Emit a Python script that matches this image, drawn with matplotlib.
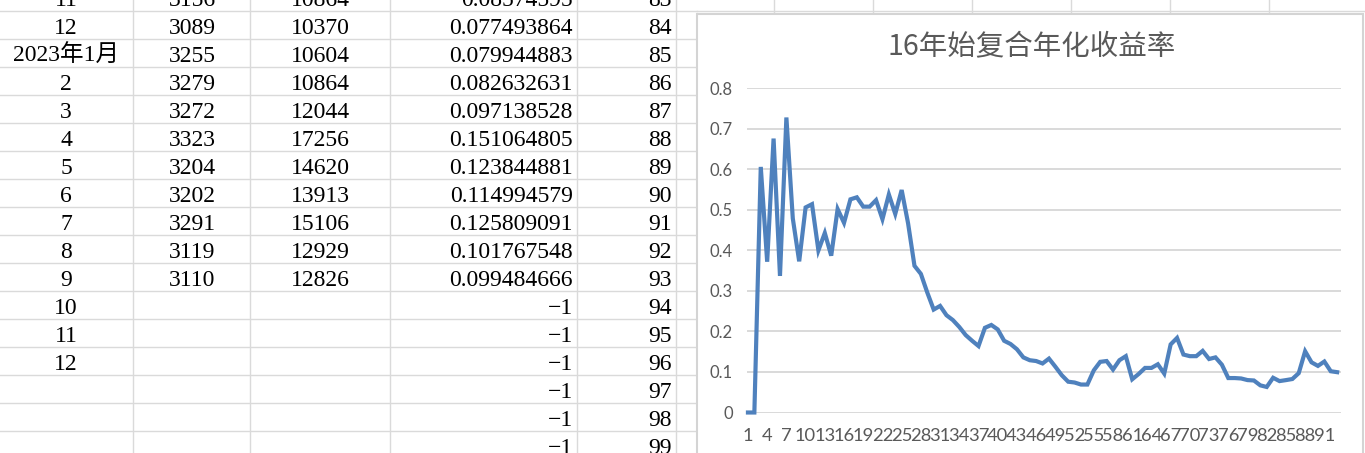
import matplotlib
matplotlib.use("Agg")
import matplotlib.pyplot as plt
from matplotlib.patches import Rectangle

# ---------------- data ----------------
# spreadsheet columns (visible rows)
col_month = ["11", "12", "2023年1月", "2", "3", "4", "5", "6", "7", "8", "9", "10", "11", "12", "", "", ""]
col_index = ["3156", "3089", "3255", "3279", "3272", "3323", "3204", "3202", "3291", "3119", "3110", "", "", "", "", "", ""]
col_value = ["10864", "10370", "10604", "10864", "12044", "17256", "14620", "13913", "15106", "12929", "12826", "", "", "", "", "", ""]
col_rate = ["0.08574595", "0.077493864", "0.079944883", "0.082632631", "0.097138528", "0.151064805",
            "0.123844881", "0.114994579", "0.125809091", "0.101767548", "0.099484666",
            "−1", "−1", "−1", "−1", "−1", "−1"]
col_row = ["83", "84", "85", "86", "87", "88", "89", "90", "91", "92", "93", "94", "95", "96", "97", "98", "99"]

# chart series: 复合年化收益率, points 1..93
rate = [0, 0, 0.606, 0.372, 0.676, 0.337, 0.728, 0.479, 0.373, 0.506,
        0.514, 0.400, 0.443, 0.387, 0.502, 0.468, 0.526, 0.531, 0.508, 0.508,
        0.524, 0.477, 0.538, 0.490, 0.549, 0.467, 0.362, 0.342, 0.296, 0.254,
        0.263, 0.240, 0.228, 0.211, 0.191, 0.177, 0.164, 0.209, 0.216, 0.205,
        0.177, 0.169, 0.156, 0.136, 0.129, 0.127, 0.121, 0.133, 0.113, 0.092,
        0.076, 0.074, 0.069, 0.069, 0.104, 0.125, 0.127, 0.106, 0.129, 0.139,
        0.082, 0.095, 0.110, 0.110, 0.119, 0.096, 0.168, 0.184, 0.143, 0.139,
        0.139, 0.152, 0.132, 0.136, 0.118, 0.085, 0.085, 0.084, 0.080, 0.079,
        0.067, 0.063, 0.0857, 0.0775, 0.0799, 0.0826, 0.0971, 0.1511, 0.1238, 0.1150,
        0.1258, 0.1018, 0.0995]
points = list(range(1, len(rate) + 1))
x_tick_labels = [str(v) for v in range(1, 92, 3)]
y_ticks = [0, 0.1, 0.2, 0.3, 0.4, 0.5, 0.6, 0.7, 0.8]
y_tick_labels = ["0", "0.1", "0.2", "0.3", "0.4", "0.5", "0.6", "0.7", "0.8"]
title = "16年始复合年化收益率"

# ---------------- figure ----------------
W, H = 1365, 453
fig = plt.figure(figsize=(W / 100, H / 100), dpi=100)
bg = fig.add_axes([0, 0, 1, 1])
bg.set_xlim(0, W)
bg.set_ylim(H, 0)
bg.axis("off")

grid_c = "#dadada"
# sheet grid
col_lines = [133, 250, 390, 577, 676]
for x in col_lines:
    bg.plot([x, x], [0, H], color=grid_c, lw=1.0)
for k in range(16):
    y = 11 + 28 * k
    bg.plot([0, 697], [y, y], color=grid_c, lw=1.0)
bg.plot([697, W], [11, 11], color=grid_c, lw=1.0)
for x in [774, 873, 972, 1071, 1170, 1269]:
    bg.plot([x, x], [0, 13], color=grid_c, lw=1.0)

# table text
serif = ["Liberation Serif", "Noto Sans CJK SC"]
fs = 17
for i in range(len(col_month)):
    yc = 0 + 28 * i
    bg.text(66, yc, col_month[i], ha="center", va="center", fontsize=fs, family=serif, color="black")
    bg.text(192, yc, col_index[i], ha="center", va="center", fontsize=fs, family=serif, color="black")
    bg.text(320, yc, col_value[i], ha="center", va="center", fontsize=fs, family=serif, color="black")
    bg.text(573, yc, col_rate[i], ha="right", va="center", fontsize=fs, family=serif, color="black")
    bg.text(672, yc, col_row[i], ha="right", va="center", fontsize=fs, family=serif, color="black")

# chart box
bg.add_patch(Rectangle((697, 13.5), 666, 460, facecolor="white", edgecolor="#d4d4d4", lw=1.5, zorder=5))

# title
fig.text(1032 / W, 1 - 47 / H, title, ha="center", va="center", fontsize=20.5,
         family=["Noto Sans CJK SC", "DejaVu Sans"], color="#595959")

# chart axes
left, right, top, bottom = 747, 1341, 88.3, 412.5
ax = fig.add_axes([left / W, 1 - bottom / H, (right - left) / W, (bottom - top) / H])
ax.set_facecolor("none")
ax.set_zorder(10)
for yv in y_ticks:
    ax.axhline(yv, color="#d9d9d9", lw=1.4, zorder=1)
ax.plot(points, rate, color="#4F81BD", lw=3.0, solid_joinstyle="miter", zorder=3, clip_on=False)
ax.set_ylim(0, 0.8)
ax.set_xlim(0.85, 93.6)
for s in ax.spines.values():
    s.set_visible(False)
ax.set_yticks(y_ticks)
ax.set_yticklabels(y_tick_labels)
ax.set_xticks(list(range(1, 92, 3)))
ax.set_xticklabels(x_tick_labels)
ax.tick_params(axis="both", length=0, labelcolor="#595959")
ax.tick_params(axis="y", pad=10, labelsize=12)
ax.tick_params(axis="x", pad=11, labelsize=13.2)
for lab in ax.get_xticklabels() + ax.get_yticklabels():
    lab.set_family("Lato")

fig.savefig("out.png", dpi=100)
